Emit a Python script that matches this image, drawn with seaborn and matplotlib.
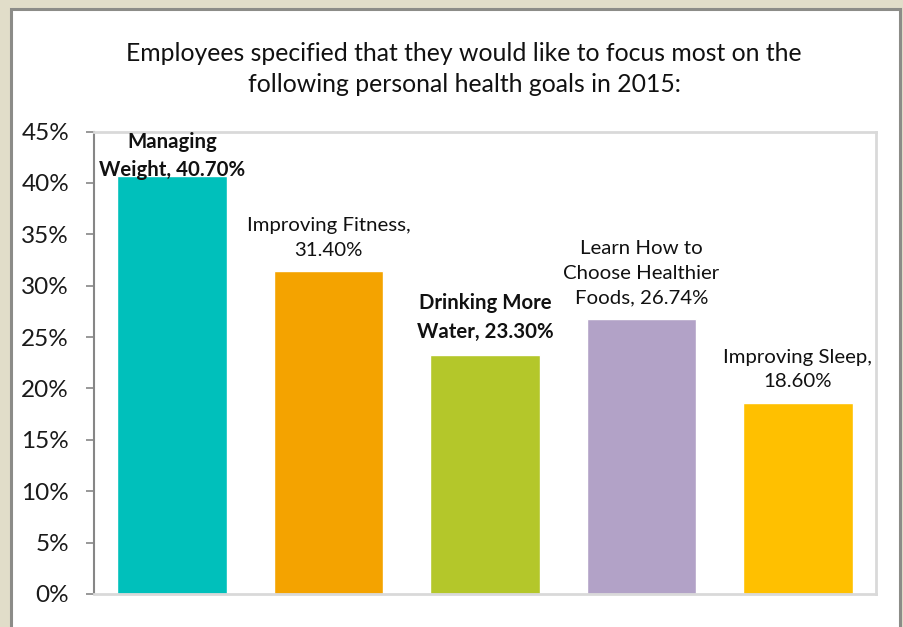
import matplotlib
matplotlib.use("Agg")
import matplotlib.pyplot as plt
import matplotlib.patches as mpatches
import seaborn as sns
import pandas as pd

# data
categories = ["Managing Weight", "Improving Fitness", "Drinking More Water",
              "Learn How to Choose Healthier Foods", "Improving Sleep"]
values = [40.70, 31.40, 23.30, 26.74, 18.60]
bar_labels = ["Managing\nWeight, 40.70%",
              "Improving Fitness,\n31.40%",
              "Drinking More\nWater, 23.30%",
              "Learn How to\nChoose Healthier\nFoods, 26.74%",
              "Improving Sleep,\n18.60%"]
highlight = ["Managing Weight", "Drinking More Water"]
yticks = [0, 5, 10, 15, 20, 25, 30, 35, 40, 45]
colors = ["#00C0BB", "#F4A300", "#B4C72A", "#B2A2C7", "#FFC000"]

title = ("Employees specified that they would like to focus most on the\n"
         "following personal health goals in 2015:")

df = pd.DataFrame({"goal": categories, "pct": values})

sns.set_style("white")
plt.rcParams["font.family"] = ["Lato", "DejaVu Sans"]

fig = plt.figure(figsize=(9.04, 6.27), dpi=100)
fig.patch.set_facecolor("#E1DDC9")

# white panel with grey frame
panel = mpatches.Rectangle((10.5 / 904, -0.05), 890 / 904, 1.05 - 9 / 627,
                           transform=fig.transFigure, facecolor="white",
                           edgecolor="#8C8C88", linewidth=2.2, zorder=0)
fig.patches.append(panel)

ax = fig.add_axes([94 / 904, 1 - 594 / 627, (876 - 94) / 904, (594 - 131.5) / 627])
ax.set_zorder(2)
ax.set_facecolor("white")

sns.barplot(data=df, x="goal", y="pct", hue="goal", palette=colors,
            width=0.7, legend=False, saturation=1, ax=ax)

ax.set_ylim(0, 45)
ax.set_yticks(yticks)
ax.set_yticklabels([f"{t}%" for t in yticks], fontsize=17.5)
ax.set_xticks([])
ax.set_xlabel("")
ax.set_ylabel("")

for side in ["top", "right", "bottom"]:
    ax.spines[side].set_color("#D9D9D9")
    ax.spines[side].set_linewidth(2)
ax.spines["left"].set_color("#868686")
ax.spines["left"].set_linewidth(1.5)
ax.tick_params(axis="y", length=6, width=1.2, color="#868686", pad=12,
               labelcolor="#1a1a1a", left=True)

# data labels above the bars
texts = []
for i, (cat, v, lab) in enumerate(zip(categories, values, bar_labels)):
    t = ax.annotate(lab, xy=(i, v), xytext=(0, 9), textcoords="offset points",
                    ha="center", va="bottom", fontsize=14.7, linespacing=1.55,
                    color="#111111", clip_on=False,
                    fontweight="bold" if cat in highlight else "normal")
    texts.append(t)

# keep labels inside the plot area (like the spreadsheet does)
fig.canvas.draw()
ax_top = ax.get_window_extent().y1
for t, v in zip(texts, values):
    bb = t.get_window_extent()
    if bb.y1 > ax_top:
        t.xyann = (0, (ax_top - bb.y1) * 72 / fig.dpi + 9)

fig.text(464 / 904, 1 - 69 / 627, title, ha="center", va="center",
         fontsize=17.8, linespacing=1.45, color="#111111")

fig.savefig("out.png", dpi=100, facecolor=fig.get_facecolor())
